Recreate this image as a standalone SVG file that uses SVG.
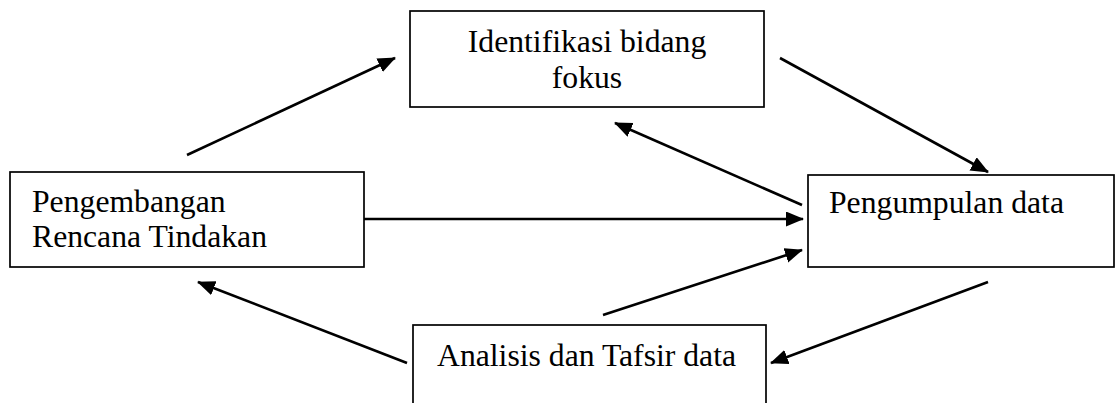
<svg xmlns="http://www.w3.org/2000/svg" width="1115" height="403" viewBox="0 0 1115 403">
  <style>
    .box { fill: #ffffff; stroke: #000000; stroke-width: 1.7; }
    .label { font-family: "Liberation Serif", "Times New Roman", serif; font-size: 31.7px; fill: #000000; }
    .link { stroke: #000000; stroke-width: 2.6; fill: none; marker-end: url(#head); }
  </style>
  <defs>
    <marker id="head" markerUnits="userSpaceOnUse" markerWidth="19" markerHeight="16" refX="17" refY="7.5" orient="auto">
      <path d="M0,0 L18,7.5 L0,15 Z" fill="#000000"/>
    </marker>
  </defs>

  <rect width="1115" height="403" fill="#ffffff"/>

  <!-- Connectors -->
  <g id="connectors">
    <line class="link" x1="187" y1="155" x2="395" y2="58"/>
    <line class="link" x1="780" y1="58" x2="988" y2="172"/>
    <line class="link" x1="802" y1="205" x2="615" y2="123"/>
    <line class="link" x1="364" y1="219" x2="803" y2="219"/>
    <line class="link" x1="603" y1="315" x2="802" y2="250"/>
    <line class="link" x1="988" y1="282" x2="771" y2="363"/>
    <line class="link" x1="407" y1="363" x2="198" y2="282"/>
  </g>

  <!-- Nodes -->
  <g id="identifikasi">
    <rect class="box" x="410" y="11" width="354" height="96"/>
    <text class="label" x="587" y="52" text-anchor="middle">Identifikasi bidang</text>
    <text class="label" x="587" y="88" text-anchor="middle">fokus</text>
  </g>

  <g id="pengembangan">
    <rect class="box" x="10" y="172" width="354" height="95"/>
    <text class="label" x="32" y="212">Pengembangan</text>
    <text class="label" x="32" y="247">Rencana Tindakan</text>
  </g>

  <g id="pengumpulan">
    <rect class="box" x="808" y="175" width="306" height="92"/>
    <text class="label" x="829" y="213">Pengumpulan data</text>
  </g>

  <g id="analisis">
    <rect class="box" x="413" y="325" width="353" height="90"/>
    <text class="label" x="437" y="366">Analisis dan Tafsir data</text>
  </g>
</svg>
